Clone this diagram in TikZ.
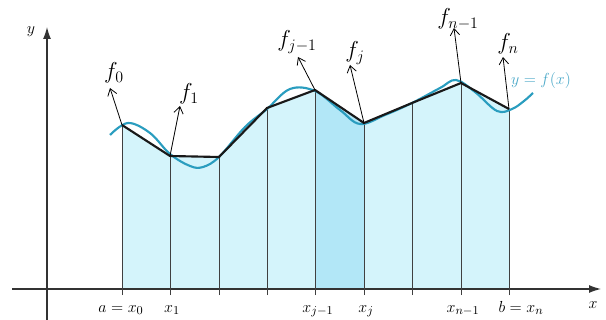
\documentclass[tikz,border=0pt]{standalone}
\usetikzlibrary{arrows.meta}
\definecolor{lightfill}{HTML}{D4F4FB}
\definecolor{darkfill}{HTML}{B2E7F7}
\definecolor{curvecol}{HTML}{2A9DBF}
\definecolor{labcol}{HTML}{4AA8C8}
\tikzset{
  axis/.style={line width=0.9pt, draw=black!80, -{Latex[length=9pt,width=6pt]}},
  ordinate/.style={line width=0.7pt, draw=black!75},
  poly/.style={line width=1.6pt, draw=black!90, line join=round},
  fcurve/.style={line width=1.6pt, draw=curvecol},
  valarrow/.style={line width=0.6pt, -{Straight Barb[length=5pt,width=7pt]}},
  flab/.style={inner sep=0pt, font=\fontsize{17}{20}\selectfont},
  tlab/.style={inner sep=0pt, anchor=base, font=\fontsize{13}{15}\selectfont},
}
\begin{document}
\begin{tikzpicture}[x=0.75pt,y=-0.75pt]
\useasboundingbox (0,0) rectangle (606,320);
% vertices
\coordinate (p0) at (122,125);
\coordinate (p1) at (170,156);
\coordinate (p2) at (219,157);
\coordinate (p3) at (267,108);
\coordinate (p4) at (315,90);
\coordinate (p5) at (364,123);
\coordinate (p6) at (412,103);
\coordinate (p7) at (461,83);
\coordinate (p8) at (509,109);
% feet
\coordinate (b0) at (122,289);
\coordinate (b1) at (170,289);
\coordinate (b2) at (219,289);
\coordinate (b3) at (267,289);
\coordinate (b4) at (315,289);
\coordinate (b5) at (364,289);
\coordinate (b6) at (412,289);
\coordinate (b7) at (461,289);
\coordinate (b8) at (509,289);
% fills
\fill[lightfill] (b0) -- (p0) -- (p1) -- (p2) -- (p3) -- (p4) -- (p5) -- (p6) -- (p7) -- (p8) -- (b8) -- cycle;
\fill[darkfill] (b4) -- (p4) -- (p5) -- (b5) -- cycle;
% axes
\coordinate (xs) at (12,289);
\coordinate (xe) at (601,289);
\coordinate (ys) at (47,320);
\coordinate (ye) at (47,27);
\draw[axis] (xs) -- (xe);
\draw[axis] (ys) -- (ye);
\node[inner sep=0pt, font=\fontsize{13}{15}\selectfont] (ylab) at (31,32) {$y$};
\node[inner sep=0pt, font=\fontsize{13}{15}\selectfont] (xlab) at (593,305) {$x$};
% ordinates
\foreach \i in {0,...,8}{
  \draw[ordinate] ([yshift=-4.5pt]b\i) -- (p\i);
}
% curve
\draw[fcurve] plot[smooth, tension=0.6] coordinates {
 (110,135) (128,123) (150,133) (170,154) (190,166) (203,167) (219,157)
 (245,127) (267,109) (290,89) (315,91) (340,110) (360,124) (385,115)
 (412,103) (440,88) (456,80) (475,92) (497,111) (512,109) (524,101) (533,93)};
% polygon
\draw[poly] (p0) -- (p1) -- (p2) -- (p3) -- (p4) -- (p5) -- (p6) -- (p7) -- (p8);
% value arrows
\coordinate (t0) at (110,88);
\coordinate (t1) at (180,106);
\coordinate (t4) at (298,57);
\coordinate (t5) at (350,65);
\coordinate (t7) at (454,28);
\coordinate (t8) at (503,57);
\draw[valarrow] (p0) -- (t0);
\draw[valarrow] (p1) -- (t1);
\draw[valarrow] (p4) -- (t4);
\draw[valarrow] (p5) -- (t5);
\draw[valarrow] (p7) -- (t7);
\draw[valarrow] (p8) -- (t8);
\node[flab] (f0) at (114,73) {$f_0$};
\node[flab] (f1) at (189,94) {$f_1$};
\node[flab] (fj1) at (297,42) {$f_{j-1}$};
\node[flab] (fj) at (355,53) {$f_j$};
\node[flab] (fn1) at (458,19) {$f_{n-1}$};
\node[flab] (fn) at (508,44) {$f_n$};
\node[inner sep=0pt, text=labcol, font=\fontsize{11.5}{13}\selectfont] (yfx) at (541,81) {$y=f(x)$};
% tick labels
\node[tlab] (la) at (121,312) {$a=x_0$};
\node[tlab] (l1) at (172,312) {$x_1$};
\node[tlab] (lj1) at (318,312) {$x_{j-1}$};
\node[tlab] (lj) at (366,312) {$x_j$};
\node[tlab] (ln1) at (463,312) {$x_{n-1}$};
\node[tlab] (lb) at (521,312) {$b=x_n$};
\end{tikzpicture}
\end{document}
